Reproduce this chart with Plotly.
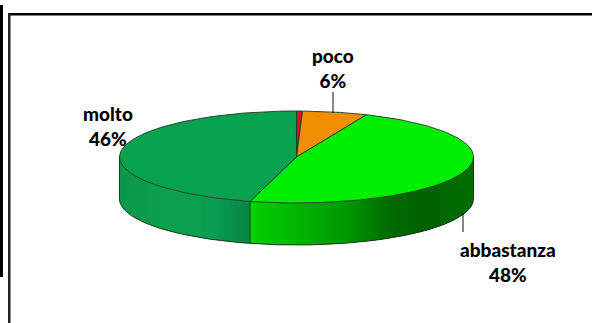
import numpy as np
import plotly.graph_objects as go

# Slice data, clockwise from twelve o'clock
categories = ["", "poco", "abbastanza", "molto"]
values = [0.5, 6, 48, 46]
top_colors = ["#E01010", "#EE8E00", "#00EE00", "#06A24F"]
labelled = ["poco", "abbastanza", "molto"]

WIDTH, HEIGHT = 592, 323
CX, CY, RX, RY, DEPTH = 296.5, 157, 177, 46, 42
OUTLINE = "#1c3a1c"


def rim(t):
    """Point on the top ellipse for an angle in degrees, clockwise from the top."""
    r = np.radians(t)
    return CX + RX * np.sin(r), CY - RY * np.cos(r)


# Lighting along the cylinder wall: (x position, colour)
wall_shades = {
    "abbastanza": [(248, (0, 212, 0)), (300, (0, 180, 0)), (350, (0, 150, 0)),
                   (395, (0, 104, 0)), (430, (0, 98, 0)), (473, (0, 110, 0))],
    "molto": [(119, (12, 150, 76)), (170, (12, 160, 80)), (215, (10, 158, 80)),
              (248, (6, 136, 70))],
}


def shade(name, x):
    stops = wall_shades[name]
    xs = [s[0] for s in stops]
    rgb = [int(round(np.interp(x, xs, [s[1][i] for s in stops]))) for i in range(3)]
    return f"rgb({rgb[0]},{rgb[1]},{rgb[2]})"


total = sum(values)
edges = np.concatenate([[0], np.cumsum(values)]) / total * 360
fig = go.Figure()


def polygon(xs, ys, fill, line=None, width=0):
    fig.add_trace(go.Scatter(
        x=list(xs), y=list(ys), mode="lines", fill="toself", fillcolor=fill,
        line=dict(color=line or fill, width=width), hoverinfo="skip", showlegend=False,
    ))


def wall_band(name, a, b):
    """One vertical band of the wall between two rim angles."""
    t = np.linspace(a, b, 8)
    xs, ys = rim(t)
    polygon(np.r_[xs, xs[::-1], xs[0]], np.r_[ys, ys[::-1] + DEPTH, ys[0]],
            shade(name, float(xs.mean())))


# Front wall, drawn left to right in narrow bands; each band runs under the next
for i, name in enumerate(categories):
    start, stop = max(edges[i], 90), min(edges[i + 1], 270)
    if start >= stop:
        continue
    x_start, x_stop = rim(start)[0], rim(stop)[0]
    count = max(int(abs(x_stop - x_start) / 3), 2)
    x_steps = np.linspace(x_start, x_stop, count + 1)
    # Convert evenly spaced x positions back to angles on the front half
    angles = 180 - np.degrees(np.arcsin(np.clip((x_steps - CX) / RX, -1, 1)))
    order = np.argsort(x_steps)
    angles = angles[order]
    for j in range(len(angles) - 1):
        wall_band(name, angles[j], angles[min(j + 2, len(angles) - 1)])

# Wall outline: lower rim and the vertical edges
t = np.linspace(90, 270, 181)
lx, ly = rim(t)
outline_parts = [(lx, ly + DEPTH)]
for edge in (90, edges[3], 270):
    ex, ey = rim(edge)
    outline_parts.append(([ex, ex], [ey, ey + DEPTH]))
for xs, ys in outline_parts:
    fig.add_trace(go.Scatter(x=list(xs), y=list(ys), mode="lines",
                             line=dict(color=OUTLINE, width=1),
                             hoverinfo="skip", showlegend=False))

# Top face of each slice
for i, name in enumerate(categories):
    t = np.linspace(edges[i], edges[i + 1], 120)
    ex, ey = rim(t)
    polygon(np.r_[CX, ex, CX], np.r_[CY, ey, CY], top_colors[i], OUTLINE, 0.9)

# Leader lines from the rim to the labels
leaders = {"poco": [(333, 92), (333, 113)], "abbastanza": [(463, 213), (463, 232)]}
for pts in leaders.values():
    fig.add_trace(go.Scatter(x=[p[0] for p in pts], y=[p[1] for p in pts], mode="lines",
                             line=dict(color="#111111", width=1),
                             hoverinfo="skip", showlegend=False))

label_pos = {"poco": (333, 68), "abbastanza": (508, 262), "molto": (108, 126)}
for name in labelled:
    x, y = label_pos[name]
    fig.add_annotation(x=x, y=y, text=f"{name}<br>{values[categories.index(name)]}%",
                       showarrow=False, xanchor="center", yanchor="middle",
                       font=dict(family="Lato", size=19, weight=900, color="#000000"))

# Frame lines around the chart area
frame = [
    dict(x0=8, x1=WIDTH, y0=13, y1=15.5, fillcolor="#000000"),
    dict(x0=8, x1=10.5, y0=13, y1=HEIGHT, fillcolor="#222222"),
    dict(x0=0, x1=3, y0=5, y1=277, fillcolor="#000000"),
]
for box in frame:
    fig.add_shape(type="rect", xref="x", yref="y", line_width=0, layer="above", **box)

fig.update_layout(
    width=WIDTH, height=HEIGHT, margin=dict(l=0, r=0, t=0, b=0),
    paper_bgcolor="white", plot_bgcolor="white", showlegend=False,
    xaxis=dict(range=[0, WIDTH], visible=False, fixedrange=True),
    yaxis=dict(range=[HEIGHT, 0], visible=False, fixedrange=True),
)
fig.write_html("out.html", config={"displayModeBar": False})
